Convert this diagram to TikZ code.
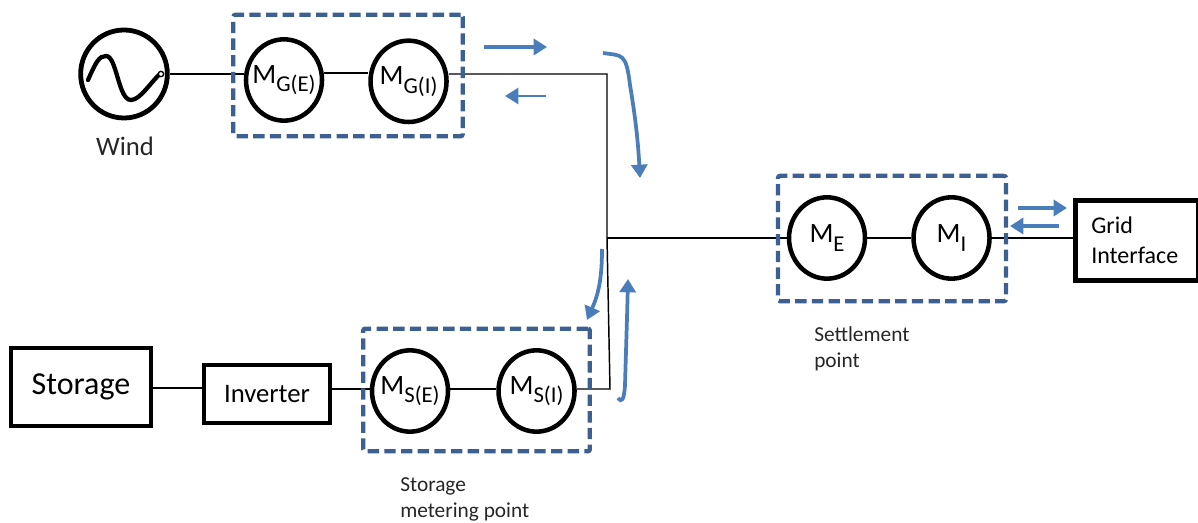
\documentclass[tikz,border=0pt]{standalone}
\usepackage{fontspec}
\setmainfont{Carlito}
\usepackage{tikz}
\usetikzlibrary{shapes,arrows.meta,positioning}
\definecolor{boxblue}{RGB}{60, 96, 145}
\definecolor{flowblue}{RGB}{74, 126, 187}
\newcommand{\metername}[1]{\makebox[0pt]{\fontsize{21}{21}\selectfont M\raisebox{-6.5pt}{\fontsize{17}{17}\selectfont #1}}}
\tikzstyle{meter} = [ellipse, draw=black, line width=3.4pt, inner sep=0pt, minimum width=57pt, minimum height=61pt]
\tikzstyle{block} = [rectangle, draw=black, line width=3.2pt, inner sep=0pt, align=left]
\tikzstyle{mbox} = [rectangle, draw=boxblue, line width=3.2pt, dash pattern=on 8.5pt off 4pt, rounded corners=1.5pt, inner sep=0pt]
\tikzstyle{textonly} = [draw=none, fill=none, align=left, anchor=north west, inner sep=0pt, text=black!85, font=\fontsize{16}{19.5}\selectfont]
\tikzstyle{wire} = [draw, line width=1.1pt]
\tikzstyle{flow} = [draw=flowblue, line width=2.8pt, -{Triangle[length=10pt,width=12pt]}]

\begin{document}
\begin{tikzpicture}[x=0.75pt, y=-0.75pt]
\useasboundingbox (0,0) rectangle (1198,523);

% nodes on the top row
\node[meter, line width=3.6pt, minimum width=65pt, minimum height=66pt] (wind) at (124,74) {};
\node[textonly, font=\fontsize{20}{20}\selectfont, anchor=center] (windtext) at (125,146) {Wind};
\node[meter] (mge) at (284,80) {\metername{G(E)}};
\node[meter, right=33pt of mge, yshift=-1pt] (mgi) {\metername{G(I)}};

% the wave inside the generator
\draw[line width=3.2pt, line cap=round] (88,80) .. controls (96,62) and (99,56) .. (106,56) .. controls (117,56) and (118,100) .. (131,100) .. controls (140,100) and (150,83) .. (160,74);
\node[circle, draw=black, line width=1pt, fill=white, inner sep=0pt, minimum size=4pt] (wavetip) at (161,74) {};

% nodes on the bottom row
\node[block, minimum width=105pt, minimum height=58pt, font=\fontsize{24}{24}\selectfont, align=center] (storage) at (81,387) {\raisebox{-2pt}{Storage}};
\node[block, minimum width=94pt, minimum height=43pt, font=\fontsize{20}{20}\selectfont, align=center] (inverter) at (267,394) {Inverter};
\node[meter] (mse) at (410,391) {\metername{S(E)}};
\node[meter, right=34.5pt of mse] (msi) {\metername{S(I)}};

% nodes on the right
\node[meter] (me) at (827,238) {\metername{E}};
\node[meter, right=33pt of me] (mi) {\metername{I}};
\node[block, line width=3.4pt, minimum width=92pt, minimum height=60pt, font=\fontsize{18}{22}\selectfont, anchor=north west, text width=68pt, align=left, inner xsep=12pt] (grid) at (1073,198) {Grid\\Interface};

% labels under the boxes
\node[textonly] (settle) at (814,326) {Settlement\\point};
\node[textonly] (storemeter) at (400,477) {Storage\\metering point};

% junctions
\coordinate (top) at (607,74);
\coordinate (mid) at (607,238);
\coordinate (low) at (610,389);

% edges
\path[wire] (wind.east |- 0,74) -- (mge.west |- 0,74);
\path[wire] (mge.east |- 0,73) -- (mgi.west |- 0,73);
\path[wire] (mgi.east |- 0,74) -- (top) -- (mid) -- (low) -- (msi.east |- low);
\path[wire] (mid) -- (me);
\path[wire] (me) -- (mi);
\path[wire] (mi.east) -- (grid.west |- mi.east);
\path[wire] (storage.east |- 0,388) -- (inverter.west |- 0,388);
\path[wire] (inverter.east |- 0,389) -- (mse.west |- 0,389);
\path[wire] (mse.east |- 0,389) -- (msi.west |- 0,389);

%% dashed boxes
\node[mbox, minimum width=172pt, minimum height=91pt] (boxg) at (348,75.5) {};
\node[mbox, minimum width=170pt, minimum height=92pt] (boxs) at (476.5,390) {};
\node[mbox, minimum width=171pt, minimum height=94pt] (boxe) at (892,238.5) {};

% flow arrows
\coordinate (a1) at (484,47);
\coordinate (a2) at (547,47);
\coordinate (b1) at (546,96);
\coordinate (b2) at (505,96);
\coordinate (c1) at (603,53);
\coordinate (c2) at (640,178);
\coordinate (d1) at (602,249);
\coordinate (d2) at (587,320);
\coordinate (e1) at (618,398);
\coordinate (e2) at (628,279);
\coordinate (f1) at (1018,208);
\coordinate (f2) at (1067,208);
\coordinate (g1) at (1059,226);
\coordinate (g2) at (1010,226);
\path[flow] (a1) -- (a2);
\path[flow, line width=2pt] (b1) -- (b2);
\path[flow] (c1) .. controls (622,56) and (626,52) .. (630,85) .. controls (635,115) and (638,140) .. (c2);
\path[flow] (d1) .. controls (602,280) and (598,295) .. (d2);
\path[flow] (e1) .. controls (622,403) and (624,400) .. (625,385) .. controls (626,350) and (627,320) .. (e2);
\path[flow] (f1) -- (f2);
\path[flow] (g1) -- (g2);

\end{tikzpicture}
\end{document}
